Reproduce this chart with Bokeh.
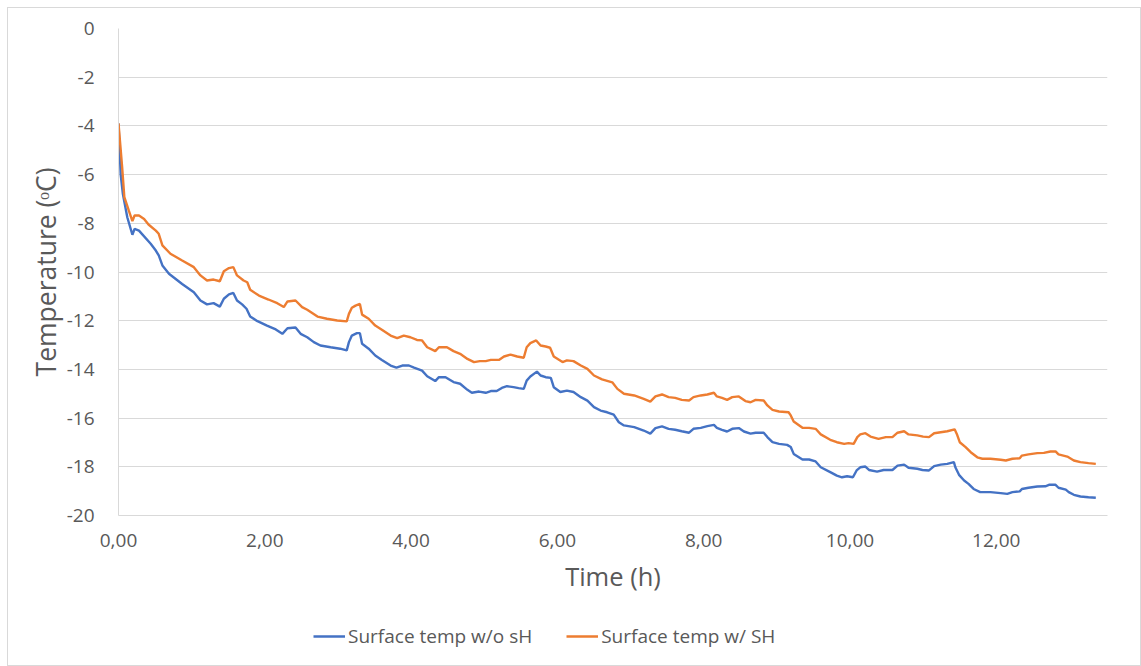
from bokeh.plotting import figure
from bokeh.models import Legend, LegendItem, FixedTicker, Range1d
from bokeh.layouts import column
from bokeh.embed import file_html
from bokeh.resources import INLINE

# ---- data ----
t_without = [0.00, 0.03, 0.06, 0.12, 0.19, 0.22, 0.28, 0.44, 0.51, 0.55, 0.60, 0.69, 0.87, 1.03, 1.12,
             1.21, 1.30, 1.385, 1.44, 1.51, 1.57, 1.62, 1.69, 1.75, 1.80, 1.90, 2.03, 2.15, 2.24, 2.31,
             2.42, 2.49, 2.58, 2.67, 2.76, 2.90, 3.03, 3.12, 3.15, 3.19, 3.26, 3.30, 3.33, 3.42, 3.51,
             3.60, 3.72, 3.80, 3.88, 3.97, 4.04, 4.15, 4.22, 4.33, 4.38, 4.47, 4.58, 4.67, 4.77, 4.83,
             4.93, 5.02, 5.09, 5.17, 5.24, 5.31, 5.40, 5.47, 5.54, 5.58, 5.63, 5.72, 5.77, 5.84, 5.91,
             5.95, 6.04, 6.13, 6.22, 6.32, 6.41, 6.50, 6.59, 6.68, 6.77, 6.84, 6.91, 7.05, 7.18, 7.27,
             7.34, 7.43, 7.52, 7.61, 7.70, 7.80, 7.86, 7.96, 8.05, 8.14, 8.18, 8.25, 8.32, 8.39, 8.48,
             8.55, 8.64, 8.71, 8.82, 8.87, 8.94, 9.03, 9.14, 9.19, 9.23, 9.35, 9.44, 9.53, 9.60, 9.73,
             9.82, 9.89, 9.96, 10.04, 10.09, 10.14, 10.21, 10.26, 10.37, 10.46, 10.58, 10.65, 10.74, 10.80,
             10.92, 10.99, 11.08, 11.15, 11.24, 11.33, 11.42, 11.44, 11.49, 11.56, 11.62, 11.69, 11.78,
             11.92, 12.06, 12.15, 12.22, 12.32, 12.35, 12.44, 12.56, 12.67, 12.72, 12.81, 12.85, 12.95,
             12.99, 13.06, 13.15, 13.26, 13.36]
temp_without = [-3.90, -6.00, -6.80, -7.75, -8.47, -8.23, -8.30, -8.84, -9.12, -9.32, -9.73, -10.07, -10.49, -10.83, -11.17,
                -11.33, -11.28, -11.42, -11.10, -10.92, -10.86, -11.17, -11.33, -11.51, -11.83, -12.02, -12.20, -12.36, -12.54, -12.31,
                -12.28, -12.54, -12.68, -12.88, -13.02, -13.09, -13.15, -13.22, -12.88, -12.61, -12.51, -12.51, -12.95, -13.15, -13.43,
                -13.61, -13.84, -13.93, -13.84, -13.84, -13.93, -14.05, -14.28, -14.48, -14.32, -14.32, -14.52, -14.59, -14.84, -14.96,
                -14.91, -14.96, -14.89, -14.89, -14.76, -14.69, -14.73, -14.77, -14.80, -14.46, -14.29, -14.09, -14.25, -14.32, -14.35,
                -14.73, -14.93, -14.87, -14.93, -15.14, -15.28, -15.55, -15.69, -15.76, -15.86, -16.17, -16.30, -16.37, -16.51, -16.64,
                -16.41, -16.34, -16.44, -16.48, -16.54, -16.60, -16.44, -16.40, -16.33, -16.28, -16.40, -16.48, -16.55, -16.44, -16.41,
                -16.55, -16.64, -16.60, -16.60, -16.78, -16.99, -17.06, -17.10, -17.19, -17.47, -17.70, -17.70, -17.78, -18.02, -18.22,
                -18.36, -18.43, -18.39, -18.43, -18.15, -18.02, -17.99, -18.13, -18.20, -18.13, -18.13, -17.95, -17.91, -18.04,
                -18.08, -18.13, -18.15, -17.97, -17.91, -17.88, -17.81, -18.02, -18.33, -18.56, -18.70, -18.91, -19.04,
                -19.04, -19.08, -19.11, -19.04, -19.01, -18.91, -18.86, -18.81, -18.80, -18.74, -18.74, -18.86, -18.94,
                -19.04, -19.15, -19.22, -19.25, -19.27]

t_with = [0.00, 0.05, 0.08, 0.14, 0.19, 0.22, 0.28, 0.35, 0.41, 0.51, 0.55, 0.60, 0.71, 0.87, 1.03,
          1.12, 1.21, 1.30, 1.385, 1.44, 1.51, 1.57, 1.62, 1.71, 1.76, 1.80, 1.92, 2.05, 2.17, 2.26,
          2.31, 2.42, 2.51, 2.58, 2.72, 2.85, 2.99, 3.12, 3.15, 3.19, 3.24, 3.30, 3.33, 3.42, 3.51,
          3.60, 3.72, 3.81, 3.90, 3.99, 4.08, 4.15, 4.22, 4.33, 4.38, 4.49, 4.58, 4.67, 4.77, 4.86,
          4.94, 5.02, 5.09, 5.20, 5.27, 5.36, 5.45, 5.54, 5.58, 5.63, 5.71, 5.77, 5.84, 5.90, 5.95,
          6.07, 6.13, 6.22, 6.32, 6.41, 6.50, 6.61, 6.75, 6.82, 6.91, 7.05, 7.18, 7.27, 7.34, 7.43,
          7.52, 7.61, 7.70, 7.80, 7.86, 7.96, 8.05, 8.14, 8.18, 8.25, 8.32, 8.39, 8.48, 8.57, 8.64,
          8.71, 8.82, 8.87, 8.94, 9.03, 9.16, 9.19, 9.23, 9.35, 9.44, 9.53, 9.60, 9.73, 9.82, 9.92,
          9.98, 10.05, 10.10, 10.14, 10.21, 10.28, 10.39, 10.49, 10.58, 10.65, 10.74, 10.80, 10.92, 11.00,
          11.08, 11.15, 11.24, 11.33, 11.43, 11.46, 11.50, 11.58, 11.65, 11.74, 11.81, 11.92, 12.06,
          12.13, 12.22, 12.32, 12.35, 12.44, 12.56, 12.65, 12.74, 12.81, 12.85, 12.97, 13.06, 13.15,
          13.26, 13.36]
temp_with = [-3.90, -5.70, -6.93, -7.47, -7.91, -7.68, -7.68, -7.82, -8.05, -8.30, -8.43, -8.91, -9.25, -9.53, -9.80,
             -10.14, -10.35, -10.31, -10.38, -9.97, -9.84, -9.80, -10.14, -10.35, -10.42, -10.73, -10.97, -11.13, -11.28, -11.44,
             -11.21, -11.17, -11.44, -11.55, -11.83, -11.92, -11.99, -12.03, -11.72, -11.47, -11.38, -11.31, -11.75, -11.92, -12.20,
             -12.37, -12.61, -12.72, -12.61, -12.68, -12.79, -12.81, -13.09, -13.25, -13.09, -13.09, -13.25, -13.36, -13.57, -13.70,
             -13.66, -13.66, -13.61, -13.61, -13.47, -13.39, -13.47, -13.52, -13.09, -12.92, -12.81, -13.02, -13.06, -13.11, -13.47,
             -13.70, -13.63, -13.66, -13.84, -13.98, -14.25, -14.41, -14.53, -14.80, -15.00, -15.07, -15.21, -15.32, -15.11, -15.03,
             -15.14, -15.17, -15.25, -15.28, -15.14, -15.07, -15.03, -14.96, -15.11, -15.17, -15.25, -15.14, -15.11, -15.30, -15.35,
             -15.25, -15.28, -15.48, -15.66, -15.73, -15.76, -15.89, -16.14, -16.40, -16.40, -16.44, -16.67, -16.89, -16.99, -17.06,
             -17.03, -17.06, -16.78, -16.67, -16.62, -16.76, -16.85, -16.78, -16.78, -16.60, -16.54, -16.67, -16.71, -16.76,
             -16.78, -16.62, -16.58, -16.54, -16.46, -16.65, -16.99, -17.19, -17.40, -17.61, -17.67, -17.67, -17.71,
             -17.74, -17.67, -17.65, -17.54, -17.49, -17.44, -17.43, -17.37, -17.37, -17.49, -17.58, -17.74, -17.81,
             -17.85, -17.88]

series_names = ["Surface temp w/o sH", "Surface temp w/ SH"]
series_colors = ["#4472C4", "#ED7D31"]
x_tick_values = [0, 2, 4, 6, 8, 10, 12]
x_tick_labels = ["0,00", "2,00", "4,00", "6,00", "8,00", "10,00", "12,00"]
y_tick_values = [0, -2, -4, -6, -8, -10, -12, -14, -16, -18, -20]
y_tick_labels = ["0", "-2", "-4", "-6", "-8", "-10", "-12", "-14", "-16", "-18", "-20"]

FONT = "Open Sans"
TEXT_COLOR = "#595959"
GRID_COLOR = "#d9d9d9"

# ---- main chart ----
p = figure(
    width=1132, height=600,
    frame_width=989, frame_height=487,
    min_border_left=110, min_border_right=33, min_border_top=20, min_border_bottom=93,
    x_range=Range1d(0, 13.52), y_range=Range1d(-20, 0),
    output_backend="svg", toolbar_location=None,
)
p.outline_line_color = None
p.background_fill_color = "white"
p.border_fill_color = "white"

p.xaxis.ticker = FixedTicker(ticks=x_tick_values)
p.xaxis.major_label_overrides = dict(zip(x_tick_values, x_tick_labels))
p.yaxis.ticker = FixedTicker(ticks=y_tick_values)
p.yaxis.major_label_overrides = dict(zip(y_tick_values, y_tick_labels))

for ax in (p.xaxis, p.yaxis):
    ax.axis_line_color = GRID_COLOR
    ax.axis_line_width = 1
    ax.major_tick_line_color = None
    ax.minor_tick_line_color = None
    ax.major_label_text_font = FONT
    ax.major_label_text_font_size = "19px"
    ax.major_label_text_color = TEXT_COLOR
    ax.axis_label_text_font = FONT
    ax.axis_label_text_font_style = "normal"
    ax.axis_label_text_color = TEXT_COLOR

p.xaxis.axis_label = "Time (h)"
p.yaxis.axis_label = "Temperature (ᵒC)"
p.xaxis.axis_label_text_font_size = "25.5px"
p.yaxis.axis_label_text_font_size = "26.5px"
p.xaxis.major_label_standoff = 12
p.yaxis.major_label_standoff = 18
p.xaxis.axis_label_standoff = 9
p.yaxis.axis_label_standoff = 0

p.xgrid.grid_line_color = None
p.ygrid.grid_line_color = GRID_COLOR
p.ygrid.grid_line_width = 1

p.line(t_without, temp_without, line_color=series_colors[0], line_width=2.4)
p.line(t_with, temp_with, line_color=series_colors[1], line_width=2.4)

# ---- legend strip (same series, drawn outside its visible range) ----
lg = figure(
    width=1132, height=57,
    x_range=Range1d(100, 101), y_range=Range1d(100, 101),
    min_border=0, output_backend="svg", toolbar_location=None,
)
lg.axis.visible = False
lg.grid.visible = False
lg.outline_line_color = None
lg.background_fill_color = "white"
lg.border_fill_color = "white"
l1 = lg.line(t_without, temp_without, line_color=series_colors[0], line_width=2.4)
l2 = lg.line(t_with, temp_with, line_color=series_colors[1], line_width=2.4)

legend = Legend(
    items=[LegendItem(label=series_names[0], renderers=[l1]),
           LegendItem(label=series_names[1], renderers=[l2])],
    orientation="horizontal",
    location=(195, 16),
    label_text_font=FONT, label_text_font_size="19px", label_text_color=TEXT_COLOR,
    glyph_width=32, glyph_height=20, label_standoff=3, spacing=34,
    padding=0, margin=0,
    border_line_color=None, background_fill_alpha=0,
)
lg.add_layout(legend, "center")

layout = column(p, lg, spacing=0, margin=(7, 0, 0, 7),
                styles={"border": "1px solid #d9d9d9"})

open("out.html", "w").write(file_html(layout, INLINE))
